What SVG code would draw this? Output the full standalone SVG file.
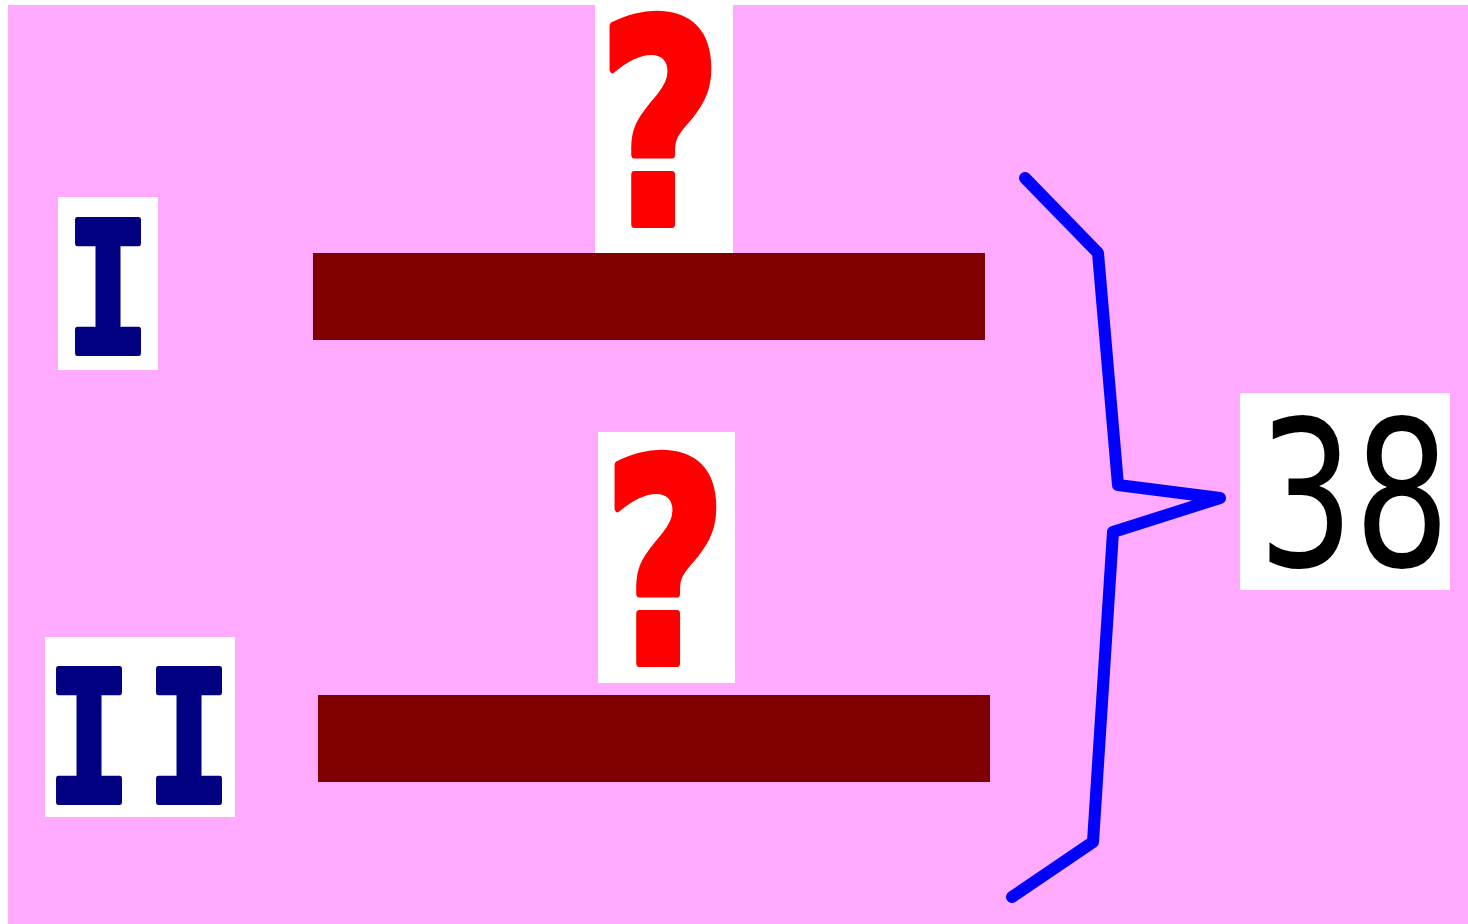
<svg xmlns="http://www.w3.org/2000/svg" width="1468" height="924" viewBox="0 0 1468 924">
<style>
.box{fill:#ffffff}
.bar{fill:#800000}
.roman{font-family:"DejaVu Sans Mono",monospace;font-weight:bold;font-size:181px;fill:#000080;stroke:#000080;stroke-width:6;stroke-linejoin:round;text-anchor:middle}
.q{font-family:"DejaVu Sans",sans-serif;font-weight:bold;font-size:282px;fill:#ff0000;stroke:#ff0000;stroke-width:8;stroke-linejoin:round;text-anchor:middle}
.num{font-family:"DejaVu Sans",sans-serif;font-size:204px;fill:#000000;text-anchor:middle}
.brace{fill:none;stroke:#0000ff;stroke-width:12;stroke-linecap:round;stroke-linejoin:round}
</style>
<rect x="0" y="0" width="1468" height="924" fill="#ffffff"/>
<rect x="8" y="5" width="1460" height="919" fill="#ffaaff"/>
<g id="label-I">
<rect class="box" x="58" y="197" width="100" height="173"/>
<text class="roman" transform="translate(108,353) scale(0.78,1)">I</text>
</g>
<g id="bar-1">
<rect class="bar" x="313" y="253" width="672" height="87"/>
</g>
<g id="question-1">
<rect class="box" x="595" y="5" width="138" height="248"/>
<text class="q" transform="translate(660,224) scale(0.76,1)">?</text>
</g>
<g id="label-II">
<rect class="box" x="45" y="637" width="190" height="180"/>
<text class="roman" transform="translate(89,802) scale(0.78,1)">I</text>
<text class="roman" transform="translate(189,802) scale(0.78,1)">I</text>
</g>
<g id="bar-2">
<rect class="bar" x="318" y="695" width="672" height="87"/>
</g>
<g id="question-2">
<rect class="box" x="598" y="432" width="137" height="251"/>
<text class="q" transform="translate(665,663) scale(0.76,1)">?</text>
</g>
<g id="total">
<rect class="box" x="1240" y="393" width="210" height="197"/>
<text class="num" transform="translate(1354,566) scale(0.74,1)">38</text>
</g>
<g id="connectors">
<polyline class="brace" points="1025,178 1098,253 1118,485 1220,498 1113,532 1093,842 1012,897"/>
</g>
</svg>
